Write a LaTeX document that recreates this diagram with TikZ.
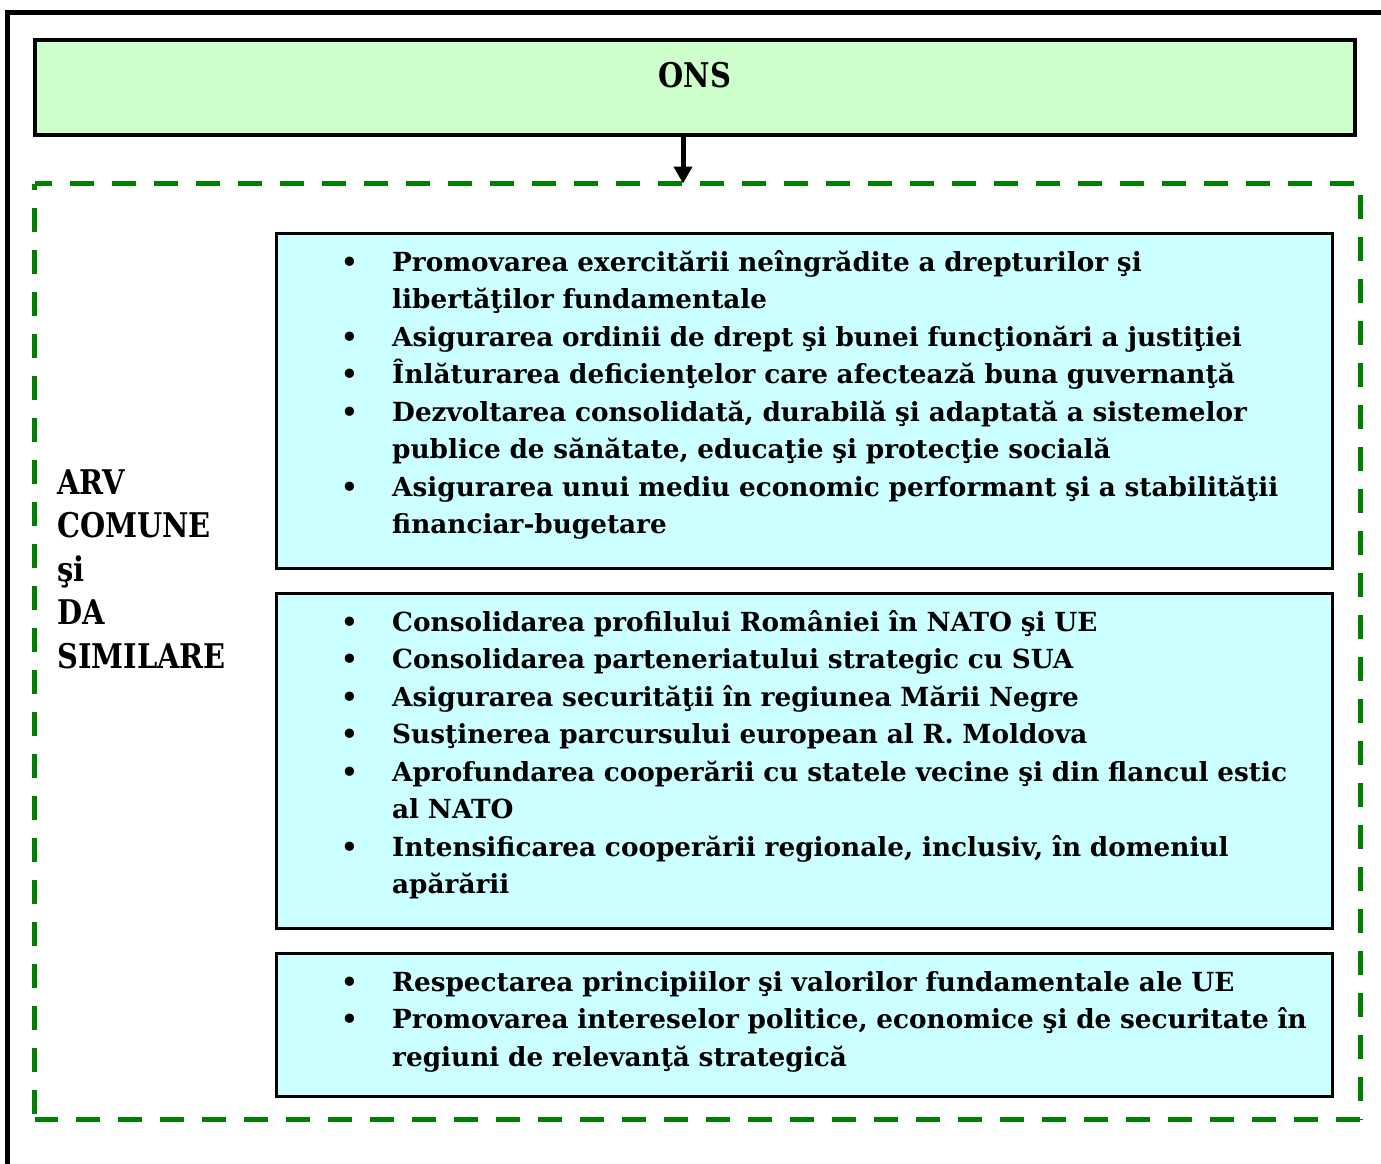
\documentclass[tikz,border=0pt]{standalone}
\usepackage{fontspec}
\setmainfont{DejaVu Serif}
\newfontfamily\narrowserif{DejaVu Serif}[FakeStretch=0.85]
\usetikzlibrary{arrows.meta}
\definecolor{onsfill}{HTML}{CCFFCC}
\definecolor{cyanfill}{HTML}{CCFFFF}
\definecolor{dashgreen}{HTML}{008000}
\setlength\parskip{0pt}
\newcommand\itemfont{\fontsize{26.3}{37.5}\selectfont\bfseries}
\newcommand\labelfont{\narrowserif\fontsize{34}{43.5}\selectfont\bfseries}
\newcommand\bl{\par\noindent\makebox[51pt][l]{\textbullet}}
\newcommand\cl{\par\noindent\hspace*{51pt}}
\begin{document}
\begin{tikzpicture}[x=1pt,y=-1pt,
  onsbox/.style={draw=black, line width=4.5pt, fill=onsfill, minimum width=1320pt, minimum height=95pt, inner sep=0pt, text height=25pt, text depth=25pt, font=\labelfont},
  itembox/.style={draw=black, line width=3pt, fill=cyanfill, minimum width=1056pt, minimum height=#1, anchor=north west, inner sep=0pt},
  itemtext/.style={anchor=north west, inner sep=0pt, text width=1000pt, align=left, font=\itemfont},
  dashside/.style={draw=dashgreen, line width=5pt, dash pattern=on 24pt off 18pt, dash phase=#1},
  arrowline/.style={draw=black, line width=5pt, -{Triangle[length=17pt,width=18pt]}},
  frameline/.style={draw=black, line width=5pt}
]
\useasboundingbox (0,0) rectangle (1381,1164);
% outer frame (partly visible)
\draw[frameline] (7.5,1180) -- (7.5,12.5) -- (1400,12.5);
% ONS box
\node[onsbox] (ons) at (695,87.5) {ONS};
% dashed group frame
\node[anchor=north west, inner sep=0pt, outer sep=0pt, minimum width=1325.5pt, minimum height=936pt] (grp) at (34.5,183.5) {};
\draw[dashside=6.5] (grp.north west) -- (grp.north east);
\draw[dashside=30.5] (grp.north east) -- (grp.south east);
\draw[dashside=17.5] (grp.north west) -- (grp.south west);
\draw[dashside=0.5] (grp.south west) -- (grp.south east);
% arrow
\coordinate (tip) at (683,183.5);
\draw[arrowline] (ons.south -| tip) -- (tip);
% left label
\node[anchor=north west, inner sep=0pt, text width=220pt, align=left, font=\labelfont] (lbl) at (57,464)
  {\rule{0pt}{30pt}ARV\par COMUNE\par şi\par DA\par SIMILARE};
% boxes
\node[itembox=335pt] (box1) at (275,232) {};
\node[itembox=335pt] (box2) at (275,592) {};
\node[itembox=143pt] (box3) at (275,952) {};
\node[itemtext] (t1) at (341,233.7) {%
\bl\rule{0pt}{28pt}Promovarea exercitării neîngrădite a drepturilor şi
\cl libertăţilor fundamentale
\bl Asigurarea ordinii de drept şi bunei funcţionări a justiţiei
\bl Înlăturarea deficienţelor care afectează buna guvernanţă
\bl Dezvoltarea consolidată, durabilă şi adaptată a sistemelor
\cl publice de sănătate, educaţie şi protecţie socială
\bl Asigurarea unui mediu economic performant şi a stabilităţii
\cl financiar-bugetare};
\node[itemtext] (t2) at (341,593.7) {%
\bl\rule{0pt}{28pt}Consolidarea profilului României în NATO şi UE
\bl Consolidarea parteneriatului strategic cu SUA
\bl Asigurarea securităţii în regiunea Mării Negre
\bl Susţinerea parcursului european al R. Moldova
\bl Aprofundarea cooperării cu statele vecine şi din flancul estic
\cl al NATO
\bl Intensificarea cooperării regionale, inclusiv, în domeniul
\cl apărării};
\node[itemtext] (t3) at (341,953.7) {%
\bl\rule{0pt}{28pt}Respectarea principiilor şi valorilor fundamentale ale UE
\bl Promovarea intereselor politice, economice şi de securitate în
\cl regiuni de relevanţă strategică};
\end{tikzpicture}
\end{document}
